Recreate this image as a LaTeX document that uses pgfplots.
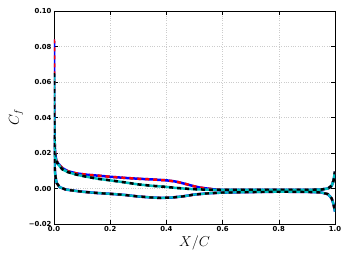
\documentclass[border=0pt]{standalone}
\usepackage{fontspec}
\setmainfont{DejaVu Sans}
\usepackage{pgfplots}
\usepackage{pgfplotstable}
\pgfplotsset{compat=1.18}

\pgfplotstableread{
x y
0.0 0.084
0.0005 0.060
0.001 0.045
0.002 0.028
0.004 0.020
0.008 0.016
0.015 0.0140
0.03 0.0115
0.05 0.0097
0.08 0.0085
0.12 0.0077
0.16 0.0072
0.2 0.0066
0.25 0.0060
0.3 0.0055
0.35 0.0051
0.4 0.0046
0.43 0.0040
0.45 0.0033
0.47 0.0025
0.495 0.0014
0.52 0.0005
0.545 0.0000
0.57 -0.0005
0.6 -0.0008
0.7 -0.0008
0.8 -0.0008
0.9 -0.0008
0.95 -0.0006
0.975 0.0000
0.988 0.0015
0.995 0.0045
1.0 0.0095
}\upperA

\pgfplotstableread{
x y
0.0 0.065
0.0005 0.048
0.001 0.036
0.002 0.025
0.004 0.018
0.008 0.0155
0.015 0.0135
0.03 0.0108
0.05 0.0092
0.08 0.0078
0.12 0.0065
0.16 0.0054
0.2 0.0046
0.25 0.0035
0.3 0.0023
0.35 0.0015
0.4 0.0009
0.43 0.0004
0.46 0.0000
0.5 -0.0004
0.55 -0.0007
0.6 -0.0008
0.7 -0.0008
0.8 -0.0008
0.9 -0.0008
0.95 -0.0006
0.975 0.0000
0.988 0.0015
0.995 0.0045
1.0 0.0095
}\upperB

\pgfplotstableread{
x y
0.0 0.030
0.002 0.013
0.004 0.0085
0.007 0.0050
0.01 0.0030
0.02 0.0008
0.04 -0.0005
0.06 -0.0010
0.1 -0.0018
0.15 -0.0025
0.2 -0.0030
0.25 -0.0036
0.3 -0.0045
0.35 -0.0051
0.38 -0.0053
0.42 -0.0051
0.46 -0.0044
0.5 -0.0034
0.55 -0.0027
0.6 -0.0023
0.7 -0.0020
0.8 -0.0018
0.9 -0.0019
0.95 -0.0022
0.975 -0.0032
0.988 -0.0055
0.995 -0.0090
1.0 -0.0130
}\lowerside

\definecolor{mplcyan}{rgb}{0,0.75,0.75}

\begin{document}
\begin{tikzpicture}
\begin{axis}[
  name=ax,
  scale only axis,
  width=281bp, height=213bp,
  xmin=0, xmax=1, ymin=-0.02, ymax=0.10,
  xtick={0,0.2,0.4,0.6,0.8,1.0},
  xticklabels={0.0,0.2,0.4,0.6,0.8,1.0},
  ytick={-0.02,0,0.02,0.04,0.06,0.08,0.10},
  yticklabels={−0.02,0.00,0.02,0.04,0.06,0.08,0.10},
  tick label style={font=\fontsize{6.9}{8}\selectfont\bfseries},
  xticklabel style={yshift=1pt},
  yticklabel style={xshift=1pt},
  tick align=inside,
  major tick length=4pt,
  tick style={black, line width=0.6pt},
  grid=major,
  major grid style={dotted, gray!40, line width=0.5pt},
  axis line style={black, line width=0.8pt},
  xlabel={$X/C$},
  ylabel={$C_f$},
  xlabel style={font=\fontsize{14}{16}\selectfont, at={(axis description cs:0.5,-0.087)}, anchor=center},
  ylabel style={font=\fontsize{14}{16}\selectfont, at={(axis description cs:-0.135,0.5)}, anchor=center},
]
\addplot[blue, line width=2.5pt] table[x=x,y=y] {\upperA};
\addplot[red, line width=2.5pt, dash pattern=on 4pt off 4pt] table[x=x,y=y] {\upperA};
\addplot[blue, line width=2.5pt] table[x=x,y=y] {\lowerside};
\addplot[red, line width=2.5pt, dash pattern=on 4pt off 4pt] table[x=x,y=y] {\lowerside};
\addplot[mplcyan, line width=2.5pt] table[x=x,y=y] {\upperB};
\addplot[black, line width=2.5pt, dash pattern=on 4pt off 4pt] table[x=x,y=y] {\upperB};
\addplot[mplcyan, line width=2.2pt] table[x=x,y=y] {\lowerside};
\addplot[black, line width=2.2pt, dash pattern=on 4pt off 4pt] table[x=x,y=y] {\lowerside};
\end{axis}
\path (ax.south west) ++(-54bp,-38bp);
\path (ax.north east) ++(14bp,11bp);
\end{tikzpicture}
\end{document}
